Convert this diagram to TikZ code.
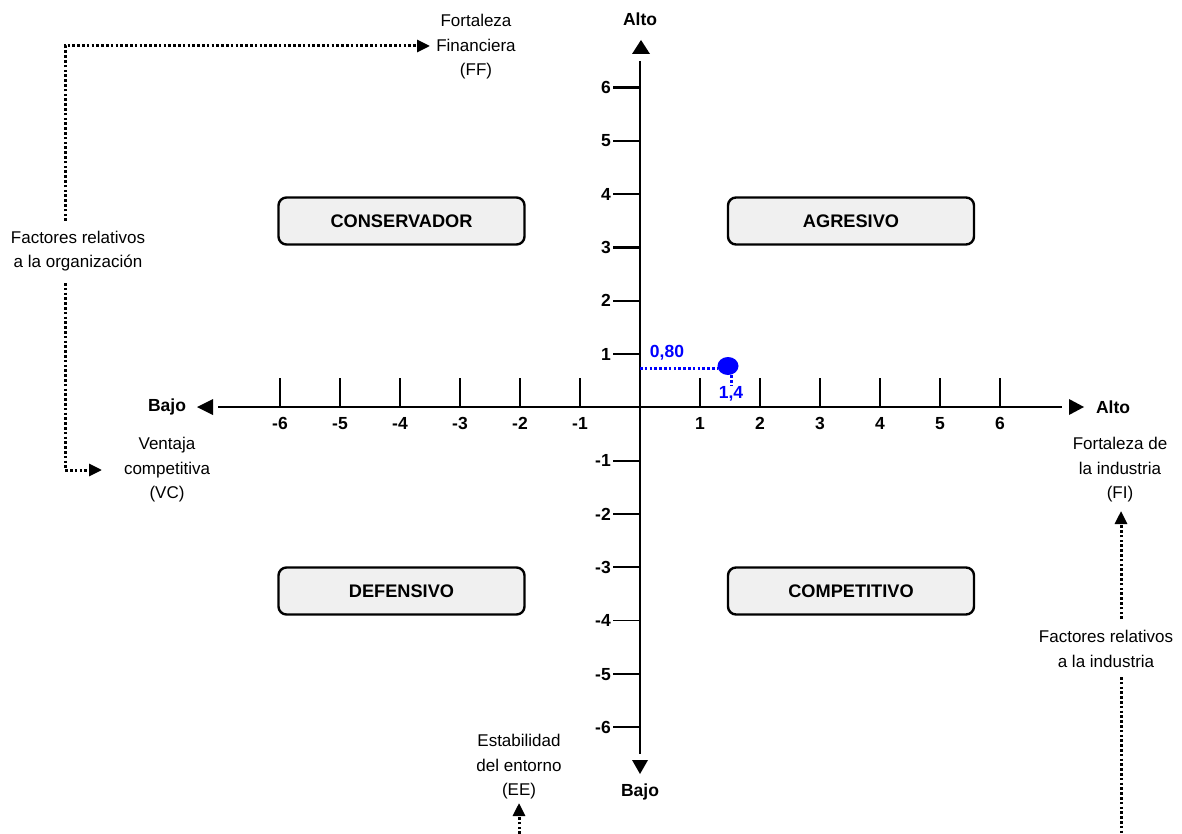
\documentclass[tikz,border=0pt]{standalone}
\usepackage{fontspec}
\setmainfont{Liberation Sans}
\usetikzlibrary{arrows.meta,shapes.geometric}
\definecolor{boxgray}{RGB}{240,240,240}
\definecolor{ptblue}{RGB}{0,0,255}
\tikzset{
  lbl/.style={font=\fontsize{17}{24.5}\selectfont, align=center, inner sep=0pt},
  blbl/.style={font=\fontsize{17.5}{24.5}\selectfont\bfseries, inner sep=0pt},
  quad/.style={draw, line width=2.4pt, rounded corners=8pt, fill=boxgray, minimum width=246pt, minimum height=47pt, font=\fontsize{18.2}{20}\selectfont\bfseries},
  axis/.style={line width=2.6pt},
  tick/.style={line width=2.2pt},
  dots/.style={line width=3pt, dash pattern=on 2.6pt off 2.2pt},
  dotarrow/.style={dots, -{Triangle[length=13pt,width=12pt]}},
  bdots/.style={line width=3pt, dash pattern=on 2.6pt off 2.2pt, ptblue},
}
\begin{document}
\begin{tikzpicture}[x=1pt,y=-1pt]
\useasboundingbox (0,0) rectangle (1182,834);
% axes
\coordinate (xl) at (218,407);
\coordinate (xr) at (1062,407);
\coordinate (yt) at (640,61);
\coordinate (yb) at (640,754);
\draw[axis] (xl) -- (xr);
\draw[axis] (yt) -- (yb);
% arrow triangles
\fill (641,40) -- (650,54) -- (632,54) -- cycle;
\fill (640,774) -- (648,760) -- (632,760) -- cycle;
\fill (197,407) -- (213,399) -- (213,415) -- cycle;
\fill (1084,407) -- (1069,399) -- (1069,415) -- cycle;
% axis end labels
\node[blbl] (altoT) at (640,19) {Alto};
\node[blbl] (bajoB) at (640,792) {Bajo};
\node[blbl] (bajoL) at (167,407) {Bajo};
\node[blbl] (altoR) at (1113,407) {Alto};
% x ticks
\foreach \i in {-6,...,-1,1,2,...,6}{
  \draw[tick] (640+60*\i,407) -- (640+60*\i,378);
  \node[blbl, anchor=base] (xt\i) at (640+60*\i,429.5) {\i};
}
% y ticks
\foreach \i in {-6,-5,-3,-2,-1,1,2,...,6}{
  \draw[tick] (640,407.3-53.3*\i) -- (613,407.3-53.3*\i);
  \node[blbl, anchor=base east] (yt\i) at (611,413.5-53.3*\i) {\i};
}
\draw[line width=1.2pt] (640,407.3+53.3*4) -- (613,407.3+53.3*4);
\node[blbl, anchor=base east] (ytm4) at (611,413.5+53.3*4) {-4};
% quadrant boxes
\node[quad] (cons) at (401.5,221) {CONSERVADOR};
\node[quad] (agr) at (851,221) {AGRESIVO};
\node[quad] (def) at (401.5,591) {DEFENSIVO};
\node[quad] (comp) at (851,591) {COMPETITIVO};
% blue point
\node[fill=ptblue, ellipse, minimum width=21pt, minimum height=18pt, inner sep=0pt] (pt) at (728,366) {};
\coordinate (py) at (640,368);
\coordinate (pxe) at (731,385);
\draw[bdots] (py) -- (pt.west |- py);
\draw[bdots] (pt.south -| pxe) -- (pxe);
\node[blbl, text=ptblue] (v080) at (667,353) {0,80};
\node[blbl, text=ptblue] (v14) at (731,394) {1,4};
% side labels
\node[lbl] (FF) at (476,47) {Fortaleza\\Financiera\\(FF)};
\node[lbl] (org) at (78,251) {Factores relativos\\a la organización};
\node[lbl] (VC) at (167,470) {Ventaja\\competitiva\\(VC)};
\node[lbl] (FI) at (1120,470) {Fortaleza de\\la industria\\(FI)};
\node[lbl] (ind) at (1106,649) {Factores relativos\\a la industria};
\node[lbl] (EE) at (519,767) {Estabilidad\\del entorno\\(EE)};
% dotted connectors
\coordinate (o1) at (65,221);
\coordinate (o2) at (65,46);
\coordinate (ffTip) at (430,46);
\draw[dotarrow] (o1) -- (o2) -- (ffTip);
\coordinate (o3) at (65,283);
\coordinate (o4) at (65,470);
\coordinate (vcTip) at (102,470);
\draw[dotarrow] (o3) -- (o4) -- (vcTip);
\coordinate (i1) at (1121,619);
\coordinate (fiTip) at (1121,511);
\draw[dotarrow] (i1) -- (fiTip);
\coordinate (i2) at (1121,677);
\coordinate (i3) at (1121,834);
\draw[dots] (i2) -- (i3);
\coordinate (e1) at (519,834);
\coordinate (eeTip) at (519,803);
\draw[dotarrow] (e1) -- (eeTip);
\end{tikzpicture}
\end{document}
